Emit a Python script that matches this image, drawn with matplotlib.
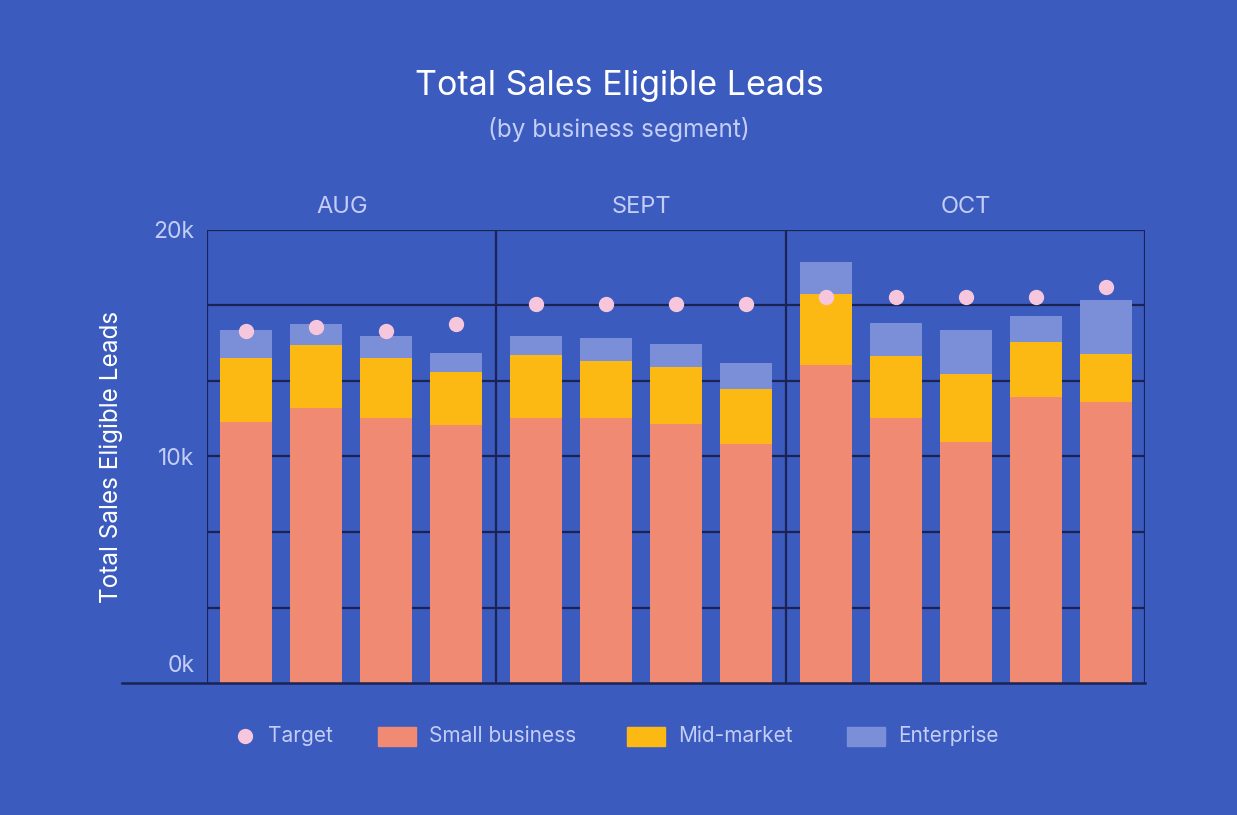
import numpy as np
import matplotlib.pyplot as plt
import matplotlib.transforms as mtransforms
from matplotlib.patches import Rectangle
from matplotlib.lines import Line2D

plt.rcParams['font.family'] = ['Inter', 'DejaVu Sans']

# data (leads)
months = ["AUG", "SEPT", "OCT"]
bars_per_month = [4, 4, 5]
small_business = [11540, 12160, 11720, 11370, 11690, 11690, 11450, 10530,
                  14050, 11720, 10660, 12640, 12420]
mid_market = [2830, 2770, 2650, 2340, 2770, 2540, 2510, 2470,
              3130, 2730, 3000, 2430, 2120]
enterprise = [1230, 930, 930, 840, 840, 1010, 1020, 1140,
              1420, 1450, 1940, 1140, 2350]
target = [15560, 15710, 15560, 15860, 16740, 16740, 16740, 16740,
          17060, 17060, 17060, 17060, 17470]
ytick_vals = [0, 10000, 20000]
ytick_labels = ["0k", "10k", "20k"]

bg = "#3b5bbf"
grid_c = "#1b2352"
c_small = "#f08a72"
c_mid = "#fdb913"
c_ent = "#7b8fd8"
c_target = "#f6c6dc"
c_text = "#c3cdf6"

gap = 0.14
pos = []
for g, n in enumerate(bars_per_month):
    start = sum(bars_per_month[:g])
    pos += [start + i + g * gap for i in range(n)]
pos = np.array(pos)

fig = plt.figure(figsize=(12.37, 8.15), dpi=100, facecolor=bg)
ax = fig.add_axes([207 / 1237, 132 / 815, 938 / 1237, 453 / 815])
ax.set_facecolor(bg)

small = np.array(small_business)
mid = np.array(mid_market)
ent = np.array(enterprise)
w = 0.743
ax.bar(pos, small, width=w, color=c_small, zorder=3)
ax.bar(pos, mid, bottom=small, width=w, color=c_mid, zorder=3)
ax.bar(pos, ent, bottom=small + mid, width=w, color=c_ent, zorder=3)
ax.plot(pos, target, "o", color=c_target, markersize=10, zorder=4)

pad = 0.557
ax.set_xlim(pos[0] - pad, pos[-1] + pad)
ax.set_ylim(0, 20000)

# grid
for y in np.linspace(0, 20000, 7)[1:]:
    ax.axhline(y, color=grid_c, lw=1.6, zorder=1)
ax.axvline(pos[0] - pad, color=grid_c, lw=1.6, zorder=1)
ax.axvline(pos[-1] + pad, color=grid_c, lw=1.6, zorder=1)
ends = np.cumsum(bars_per_month)
for e in ends[:-1]:
    ax.axvline((pos[e - 1] + pos[e]) / 2, color=grid_c, lw=1.6, zorder=1)
ax.plot([-85 / 938, 1], [0, 0], transform=ax.transAxes, color=grid_c,
        lw=1.8, clip_on=False, zorder=5)

for s in ax.spines.values():
    s.set_visible(False)
ax.set_xticks([])
ax.set_yticks(ytick_vals)
ax.set_yticklabels(ytick_labels)
ax.tick_params(axis="y", length=0, pad=9, labelsize=16.5, labelcolor=c_text)
lbl0 = ax.get_yticklabels()[0]
lbl0.set_transform(lbl0.get_transform() +
                   mtransforms.ScaledTranslation(0, 19 / 100, fig.dpi_scale_trans))

ax.set_ylabel("Total Sales Eligible Leads", fontsize=17.5, color="white", labelpad=22)

# month labels
starts = np.concatenate([[0], ends[:-1]])
for m, s0, e in zip(months, starts, ends):
    xc = (pos[s0] + pos[e - 1]) / 2
    if m == "AUG":
        xc -= 0.12
    ax.text(xc, 1.05, m, transform=ax.get_xaxis_transform(), ha="center",
            va="center", fontsize=17, color=c_text)

fig.text(619 / 1237, 1 - 86 / 815, "Total Sales Eligible Leads", ha="center",
         va="center", fontsize=24.5, color="white")
fig.text(619 / 1237, 1 - 130 / 815, "(by business segment)", ha="center",
         va="center", fontsize=17.5, color=c_text)

# legend
ly = 1 - 736 / 815
fig.add_artist(Line2D([245 / 1237], [ly], marker="o", color=c_target,
                      markersize=10, linestyle="none", transform=fig.transFigure))
fig.text(268 / 1237, ly, "Target", va="center", fontsize=15, color=c_text)
for x0, col, name in [(378, c_small, "Small business"), (627, c_mid, "Mid-market"),
                      (847, c_ent, "Enterprise")]:
    fig.add_artist(Rectangle((x0 / 1237, 1 - 746 / 815), 38 / 1237, 19 / 815,
                             color=col, transform=fig.transFigure))
    fig.text((x0 + 51) / 1237, ly, name, va="center", fontsize=15, color=c_text)

fig.savefig("out.png", dpi=100, facecolor=bg)
